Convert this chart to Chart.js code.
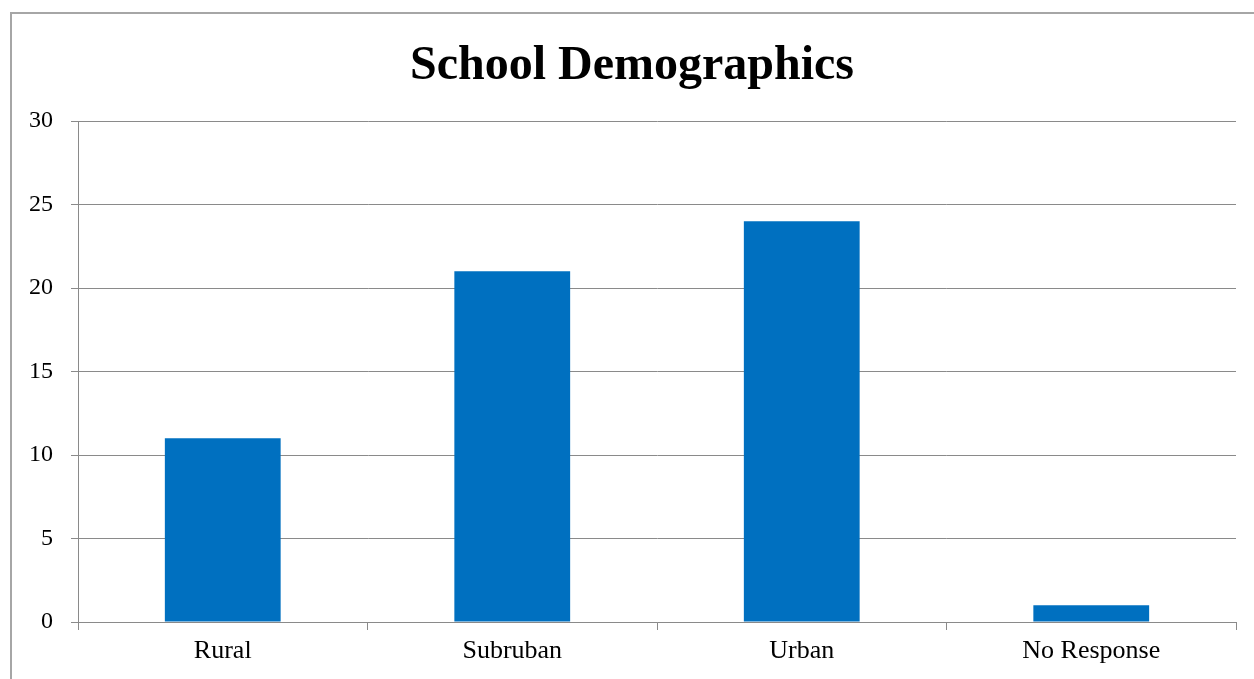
<!DOCTYPE html>
<html>
<head>
<meta charset="utf-8">
<script src="https://cdn.jsdelivr.net/npm/chart.js@4"></script>
<style>
  html, body { margin: 0; padding: 0; background: #fff; }
  #wrap { width: 1254px; height: 679px; position: relative; }
</style>
</head>
<body>
<div id="wrap"><canvas id="myChart"></canvas></div>
<script>
// dati del grafico
const categorie = ['Rural', 'Subruban', 'Urban', 'No Response'];
const valori = [11, 21, 24, 1];
const titolo = 'School Demographics';

const grigio = '#8a8a8a';

// cornice esterna come nell'originale
const cornice = {
  id: 'cornice',
  beforeDraw: (chart) => {
    const { ctx } = chart;
    ctx.save();
    ctx.strokeStyle = '#a6a6a6';
    ctx.lineWidth = 2;
    ctx.beginPath();
    ctx.moveTo(11, 679);
    ctx.lineTo(11, 13);
    ctx.lineTo(1254, 13);
    ctx.stroke();
    ctx.restore();
  }
};

const ctx = document.getElementById('myChart');
new Chart(ctx, {
  type: 'bar',
  data: {
    labels: categorie,
    datasets: [{
      data: valori,
      backgroundColor: '#0070C0',
      barPercentage: 0.4,
      categoryPercentage: 1
    }]
  },
  options: {
    responsive: true,
    maintainAspectRatio: false,
    animation: false,
    // padding sx/dx: il titolo resta un po' a destra come nel riferimento
    layout: { padding: { left: 28, right: 18, top: 0, bottom: 0 } },
    plugins: {
      legend: { display: false },
      tooltip: { enabled: false },
      title: {
        display: true,
        text: titolo,
        color: '#000',
        font: { family: 'Liberation Serif', size: 48, weight: 'bold' },
        padding: { top: 38, bottom: 25.4 }
      }
    },
    scales: {
      x: {
        border: { color: grigio, width: 1 },
        grid: { drawOnChartArea: false, drawTicks: true, tickLength: 8, color: grigio },
        ticks: {
          color: '#000',
          font: { family: 'Liberation Serif', size: 26 },
          padding: 6
        },
        afterFit: (scale) => { scale.height = 57; }
      },
      y: {
        min: 0,
        max: 30,
        border: { color: grigio, width: 1 },
        grid: { color: grigio, tickLength: 7 },
        ticks: {
          stepSize: 5,
          color: '#000',
          font: { family: 'Liberation Serif', size: 24 },
          padding: 18
        },
        afterFit: (scale) => { scale.width = 50; }
      }
    }
  },
  plugins: [cornice]
});
</script>
</body>
</html>
